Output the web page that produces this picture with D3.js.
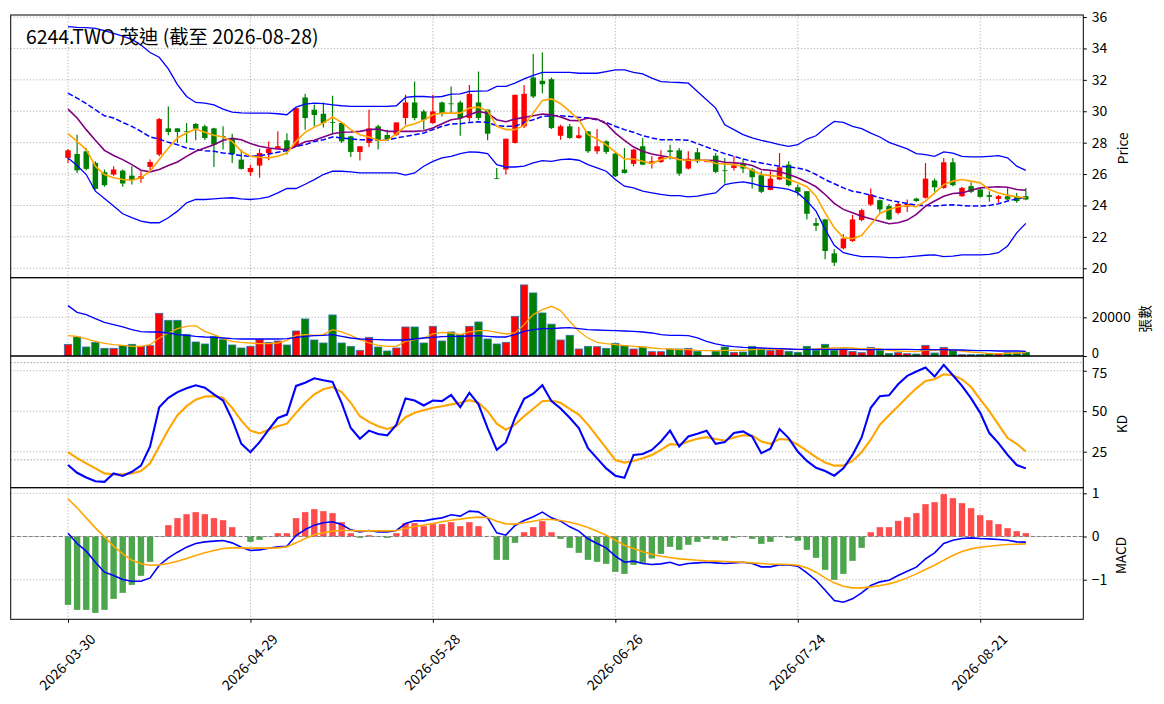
<!DOCTYPE html>
<html>
<head>
<meta charset="utf-8">
<script src="https://cdn.jsdelivr.net/npm/d3@7"></script>
<style>
  body { margin: 0; background: #fff; }
  text { font-family: "Noto Sans CJK TC", "Noto Sans", sans-serif; fill: #000; }
</style>
</head>
<body>
<div id="chart"></div>
<script>
// ---- data ----
const title = "6244.TWO 茂迪 (截至 2026-08-28)";
const tickIdx = [0, 20, 40, 60, 80, 100];
const tickLabels = ["2026-03-30", "2026-04-29", "2026-05-28", "2026-06-26", "2026-07-24", "2026-08-21"];

const open = [27.03,27.28,27.45,26.71,26.12,25.97,26.22,25.9,25.71,26.46,27.24,28.91,28.91,28.72,29.19,29.04,28.91,28.42,28.3,26.92,
  26.12,26.54,27.34,27.6,28.15,27.77,30.88,30.1,29.84,29.31,29.25,28.4,27.41,27.98,29.04,28.49,28.51,29.57,30.56,29.99,
  29.25,30.56,30.5,30.56,29.57,30.56,30.1,25.73,26.29,27.98,29.04,32.15,31.94,32.04,28.44,29.04,28.3,28.72,27.45,28.08,
  27.3,26.29,26.65,27.77,26.67,26.77,27.51,27.51,26.35,27.39,26.81,27.17,26.24,26.39,26.65,26.29,25.93,24.99,25.65,26.6,
  25.16,24.91,22.88,23.11,20.95,21.27,21.74,23.07,24.06,24.34,23.96,23.53,23.92,24.44,24.49,25.59,25.12,26.75,24.59,25.23,
  25.02,24.66,24.42,24.59,24.59,24.59];
const high = [27.6,28.51,27.66,26.81,26.29,26.5,26.29,26.5,26.18,26.92,29.57,30.31,28.91,29.25,29.25,29.14,28.95,29.04,28.57,27.56,
  26.6,27.62,28.08,28.72,28.6,30.2,31.11,30.41,30.56,30.98,29.25,28.44,27.77,30.1,29.14,28.83,29.29,31.05,31.89,30.1,
  31.05,30.62,31.58,30.69,31.68,32.53,30.1,26.39,28.25,31.05,31.68,33.65,33.74,32.15,29.14,29.19,29.0,28.72,28.87,28.15,
  27.34,27.66,27.6,28.3,27.13,27.51,27.87,27.66,27.45,27.66,26.81,27.34,27.03,27.13,26.98,26.39,26.18,26.18,27.34,26.81,
  25.33,24.91,23.22,23.15,21.21,22.16,23.39,23.79,25.08,24.38,24.1,24.21,24.38,24.49,26.71,25.71,27.03,27.03,25.19,25.48,
  25.12,24.91,24.66,25.12,24.8,25.12];
const low = [26.7,26.07,26.24,25.0,25.19,25.9,25.19,25.33,25.44,26.12,27.13,28.47,27.98,27.98,28.15,28.15,26.45,27.56,26.71,26.29,
  25.9,25.76,26.88,27.56,27.24,27.72,28.83,29.04,28.97,28.57,27.98,27.09,26.86,27.72,27.56,28.15,28.44,29.14,29.42,28.83,
  29.21,29.67,29.88,28.44,29.35,29.42,28.15,25.69,25.97,27.94,28.93,30.84,31.15,28.87,28.19,28.25,28.25,27.34,27.28,27.28,
  25.82,26.03,26.5,26.56,26.35,26.71,26.92,25.9,26.29,26.71,26.81,26.07,25.4,26.22,26.07,25.08,24.8,24.97,25.61,25.23,
  24.59,23.11,22.37,20.57,20.15,21.21,21.67,23.0,23.96,23.53,23.07,23.43,23.58,24.23,24.44,24.87,25.06,25.23,24.55,24.8,
  24.49,24.23,24.17,24.34,24.17,24.34];
const close = [27.51,26.24,26.33,25.06,25.29,26.29,25.4,25.61,25.86,26.77,29.5,28.68,28.68,28.68,28.89,28.3,27.87,28.38,27.28,26.33,
  26.39,27.34,27.6,27.77,27.45,30.2,29.57,29.76,29.25,29.27,28.08,27.41,27.77,28.91,28.13,28.23,29.29,30.56,29.57,29.46,
  29.99,29.88,30.46,29.57,31.11,29.57,28.57,25.71,28.25,31.05,31.11,30.94,31.72,28.93,29.04,28.3,28.47,27.45,27.77,27.41,
  25.86,26.07,27.56,26.6,26.81,27.09,27.41,26.03,26.98,26.81,26.81,26.14,26.2,26.56,26.35,25.8,24.87,25.71,26.43,25.29,
  24.87,23.47,22.71,21.1,20.36,21.9,23.11,23.7,24.7,23.75,23.11,24.1,24.1,24.28,25.71,25.16,26.75,25.29,25.12,24.87,
  24.55,24.55,24.59,24.38,24.28,24.38];

const ma5 = [28.57,28.08,27.56,26.5,25.97,25.76,25.65,25.61,25.76,26.18,26.92,27.66,28.3,28.61,28.87,28.66,28.47,28.36,28.08,27.45,
  27.13,27.07,27.03,27.13,27.34,28.08,28.66,28.99,29.25,29.63,29.29,28.83,28.51,28.36,28.15,28.15,28.57,29.04,29.21,29.42,
  29.78,29.88,29.88,29.88,30.2,30.26,30.03,29.04,28.83,28.83,29.1,29.88,30.69,30.79,30.48,29.99,29.46,28.51,28.23,27.87,
  27.39,26.96,26.96,26.81,26.67,26.92,27.09,26.92,26.88,26.88,26.88,26.67,26.65,26.6,26.5,26.24,25.97,25.9,25.84,25.65,
  25.44,25.19,24.59,23.53,22.58,21.95,21.88,22.1,22.79,23.49,23.75,23.92,24.0,23.92,24.28,24.8,25.33,25.55,25.65,25.55,
  25.44,25.02,24.8,24.66,24.55,24.49];
const ma10 = [30.14,29.57,28.83,28.15,27.51,27.18,26.92,26.6,26.24,26.14,26.29,26.54,26.77,27.13,27.45,27.66,27.87,28.15,28.27,28.19,
  27.94,27.77,27.66,27.6,27.56,27.77,28.06,28.15,28.36,28.57,28.66,28.68,28.72,28.83,28.87,28.72,28.72,28.72,28.72,28.76,
  28.93,29.21,29.46,29.54,29.78,29.99,29.88,29.46,29.33,29.5,29.61,29.71,29.82,29.78,29.63,29.42,29.4,29.57,29.5,29.21,
  28.61,28.15,27.72,27.45,27.28,27.17,27.07,26.96,26.88,26.88,26.88,26.86,26.75,26.71,26.67,26.54,26.29,26.24,26.15,25.97,
  25.76,25.5,25.19,24.7,24.13,23.75,23.53,23.32,23.15,23.0,22.84,22.9,23.07,23.43,23.96,24.28,24.59,24.76,24.8,24.97,
  25.12,25.16,25.19,25.16,25.02,24.97];
const ma20 = [31.15,30.84,30.48,30.1,29.71,29.57,29.29,29.04,28.72,28.36,28.23,28.02,27.87,27.66,27.56,27.49,27.45,27.34,27.28,27.17,
  27.13,27.17,27.28,27.39,27.51,27.77,27.87,28.08,28.19,28.36,28.3,28.23,28.19,28.19,28.15,28.15,28.3,28.4,28.51,28.61,
  28.83,29.04,29.19,29.21,29.29,29.33,29.29,29.08,29.04,29.04,29.29,29.46,29.67,29.71,29.71,29.67,29.61,29.57,29.46,29.29,
  29.04,28.83,28.66,28.44,28.3,28.19,28.19,28.19,28.15,27.94,27.72,27.51,27.3,27.13,26.96,26.81,26.71,26.6,26.5,26.46,
  26.39,26.24,25.97,25.65,25.38,25.12,24.91,24.8,24.66,24.49,24.34,24.23,24.13,24.02,24.0,23.96,24.02,24.04,24.0,23.96,
  23.96,24.0,24.11,24.28,24.42,24.53];
const bbUpper = [35.39,35.34,35.32,35.28,35.13,34.96,34.79,34.58,34.22,33.74,33.44,32.7,31.7,30.94,30.56,30.52,30.41,30.14,29.95,29.9,
  29.88,29.88,29.88,29.84,29.78,30.26,30.45,30.52,30.48,30.41,30.35,30.31,30.31,30.31,30.31,30.31,30.35,30.88,30.94,30.94,
  30.9,30.94,31.09,31.11,31.26,31.28,31.3,31.58,31.58,31.79,32.06,32.28,32.47,32.47,32.47,32.47,32.42,32.42,32.42,32.53,
  32.63,32.63,32.47,32.38,32.11,31.89,31.85,31.83,31.79,31.26,30.73,30.2,29.14,28.83,28.51,28.3,28.15,28.02,27.87,27.77,
  27.87,28.23,28.44,28.93,29.35,29.29,29.04,28.89,28.61,28.36,28.02,27.81,27.6,27.3,27.24,27.13,27.41,27.34,27.13,27.09,
  27.09,27.13,27.17,27.03,26.5,26.24];
const bbLower = [27.03,26.54,25.97,24.91,24.44,23.96,23.47,23.22,23.0,22.9,22.9,23.22,23.64,24.17,24.38,24.38,24.42,24.47,24.49,24.42,
  24.38,24.44,24.55,24.8,25.08,25.08,25.35,25.65,25.97,26.18,26.18,26.14,26.07,26.07,26.07,26.07,26.07,25.93,26.07,26.5,
  26.81,27.03,27.13,27.3,27.41,27.39,27.3,26.6,26.45,26.45,26.5,26.71,26.86,26.81,26.92,26.96,26.88,26.6,26.39,26.18,
  25.65,25.23,25.12,24.91,24.8,24.7,24.63,24.63,24.55,24.59,24.7,24.8,25.33,25.44,25.5,25.4,25.23,25.19,25.12,25.02,
  24.8,24.28,23.64,22.48,21.46,20.99,20.85,20.74,20.74,20.72,20.68,20.68,20.72,20.78,20.83,20.85,20.74,20.78,20.85,20.85,
  20.85,20.89,20.99,21.42,22.26,22.86];

const volume = [6034,9828,4655,7069,3966,3966,5345,6034,5000,5345,22069,18448,18448,11207,7241,6207,10172,8448,5690,4138,
  5000,8448,7069,7759,5690,12931,19138,8276,6724,21207,6724,5000,2931,9655,4655,2586,4138,15000,15000,6724,
  15345,7759,12414,11000,15345,17586,8793,6207,7069,20517,36724,32586,22241,16450,8276,10690,3621,5000,4828,3966,
  6552,5345,3621,4655,2241,2241,3621,3621,3966,2414,0,2414,4655,1897,2069,5000,3621,2759,3621,2414,
  1897,5000,2931,6034,2931,3621,2414,1724,4483,2931,1379,1724,1207,1034,5517,1552,4483,2931,690,690,
  690,1379,1207,1724,1724,1897];
const volMa5 = [10517,10172,8793,7586,6552,5862,5517,5000,5000,5862,9310,11897,14138,15345,15690,12759,11034,8966,7586,7069,
  6724,6379,6379,6724,8103,10690,11034,10690,11034,13621,12414,10690,8448,6724,5517,5000,5000,7586,8448,9310,
  11379,12241,11897,11034,12414,13103,13103,12241,11379,11897,16207,21379,24000,25690,23448,17931,12759,9310,7069,6379,
  5862,5345,5000,4655,4138,3793,3621,3276,3276,2931,2759,2759,2931,2931,2931,3276,3621,3448,3448,3448,
  3276,3448,3621,3966,4138,4310,4138,3621,3793,3621,2931,2586,2414,2241,2931,2931,3448,3103,2586,2069,
  1724,1207,1207,1379,1552,1724];
const volMa20 = [26032,22584,21378,19309,17412,16206,14999,13620,12585,12413,12413,11896,11034,10689,10172,9827,9654,9310,8965,8792,
  8792,8792,8792,8792,8965,9654,10172,10516,10689,11034,10172,9310,8792,8620,8448,8275,8275,8275,8792,9310,
  9654,9999,10172,10172,10344,10516,10172,9827,9827,11034,12758,13620,14137,14137,14482,14654,14137,13620,13447,13275,
  13102,12930,12758,12413,11896,11034,10689,10689,10516,9310,7586,6206,5344,4827,4482,4310,4138,3965,3793,3620,
  3448,3448,3448,3448,3448,3448,3448,3276,3276,3448,3448,3448,3448,3276,3276,3276,3276,3103,3103,2931,
  2758,2758,2586,2586,2586,2414];

const kLine = [16.8,12.0,9.1,6.8,6.4,11.6,10.0,12.6,16.4,28.2,52.5,58.3,61.8,64.1,66.0,64.5,60.4,56.6,44.8,29.9,
  24.7,30.9,38.6,45.8,47.9,65.6,67.6,70.3,69.1,68.1,55.2,39.6,33.0,38.0,35.9,35.1,41.7,57.9,56.6,53.5,
  56.6,56.2,60.0,52.5,61.4,54.2,39.6,26.1,30.7,45.8,57.7,60.8,66.0,56.2,51.7,45.9,39.6,27.2,20.9,14.7,
  10.2,8.9,23.0,23.6,26.1,31.3,38.0,28.2,34.4,36.1,38.0,29.9,30.9,36.5,37.5,34.4,24.1,26.8,39.0,33.4,
  25.1,19.3,15.1,13.1,10.2,14.7,23.0,33.8,52.1,59.3,59.8,66.6,71.8,74.5,77.0,71.4,78.6,72.2,65.6,57.9,
  49.0,36.5,30.3,23.0,16.8,14.7];
const dLine = [24.7,21.0,17.8,14.7,11.6,11.0,11.0,11.6,13.1,17.8,28.2,38.6,47.5,53.1,57.1,59.1,59.3,58.3,52.1,44.2,
  38.0,36.3,38.6,40.7,42.3,49.0,55.2,60.4,63.5,64.9,61.8,55.2,46.9,43.4,40.7,39.0,40.7,46.3,49.0,50.6,
  52.1,53.1,54.2,55.2,56.8,55.2,50.0,42.3,38.6,41.7,46.9,51.5,56.2,56.6,55.2,51.5,47.9,41.7,34.4,27.2,
  19.9,18.3,19.3,21.0,23.0,26.1,29.7,29.3,31.3,33.0,34.0,32.8,31.9,33.8,35.1,34.9,31.3,29.9,32.8,32.4,
  29.3,25.5,21.6,18.3,16.4,16.4,19.3,24.7,32.4,41.7,47.5,53.1,58.7,64.1,68.7,69.7,72.8,72.2,69.7,64.9,
  57.3,50.0,41.7,33.4,29.9,25.1];

const dif = [0.077,-0.162,-0.340,-0.595,-0.826,-0.903,-0.996,-1.035,-1.035,-0.958,-0.664,-0.494,-0.363,-0.247,-0.162,-0.124,-0.108,-0.093,-0.147,-0.247,
  -0.324,-0.309,-0.270,-0.239,-0.224,0.023,0.162,0.263,0.317,0.340,0.278,0.154,0.108,0.139,0.108,0.108,0.139,0.301,0.363,0.363,
  0.402,0.432,0.502,0.471,0.587,0.571,0.432,0.085,0.031,0.255,0.371,0.456,0.564,0.432,0.355,0.224,0.124,-0.054,-0.162,-0.263,
  -0.456,-0.595,-0.571,-0.625,-0.649,-0.633,-0.595,-0.664,-0.625,-0.610,-0.595,-0.610,-0.625,-0.610,-0.595,-0.625,-0.703,-0.703,-0.656,-0.656,
  -0.687,-0.842,-1.012,-1.243,-1.483,-1.521,-1.444,-1.305,-1.135,-1.050,-1.012,-0.903,-0.803,-0.710,-0.517,-0.378,-0.162,-0.085,-0.046,-0.031,
  -0.046,-0.054,-0.069,-0.085,-0.124,-0.131];
const signal = [0.873,0.664,0.432,0.201,-0.008,-0.224,-0.402,-0.548,-0.633,-0.664,-0.657,-0.625,-0.571,-0.510,-0.440,-0.378,-0.324,-0.278,-0.263,-0.263,
  -0.270,-0.270,-0.270,-0.263,-0.239,-0.147,-0.046,0.039,0.085,0.124,0.139,0.139,0.131,0.131,0.131,0.131,0.139,0.185,0.232,0.263,
  0.301,0.340,0.378,0.402,0.432,0.448,0.440,0.355,0.293,0.286,0.317,0.355,0.394,0.394,0.371,0.332,0.278,0.208,0.124,0.031,
  -0.085,-0.201,-0.278,-0.355,-0.409,-0.456,-0.486,-0.517,-0.533,-0.548,-0.564,-0.571,-0.579,-0.587,-0.595,-0.610,-0.625,-0.641,-0.641,-0.649,
  -0.664,-0.726,-0.826,-0.958,-1.073,-1.151,-1.189,-1.189,-1.166,-1.135,-1.097,-1.035,-0.958,-0.865,-0.764,-0.664,-0.548,-0.440,-0.347,-0.286,
  -0.247,-0.224,-0.201,-0.185,-0.178,-0.170];
const osc = [-1.583,-1.699,-1.699,-1.768,-1.699,-1.444,-1.305,-1.12,-0.911,-0.587,-0.01,0.263,0.425,0.517,0.564,0.517,0.425,0.378,0.216,0.0,
  -0.124,-0.077,0.0,0.077,0.077,0.425,0.564,0.633,0.587,0.541,0.332,0.077,-0.031,0.031,-0.008,-0.031,0.077,0.309,0.309,0.239,
  0.286,0.286,0.332,0.239,0.332,0.239,0.0,-0.541,-0.541,-0.147,0.1,0.216,0.355,0.1,-0.054,-0.263,-0.378,-0.541,-0.587,-0.633,
  -0.819,-0.865,-0.656,-0.610,-0.510,-0.402,-0.239,-0.309,-0.193,-0.124,-0.054,-0.077,-0.100,-0.031,-0.008,-0.054,-0.170,-0.124,-0.01,-0.031,
  -0.100,-0.309,-0.494,-0.772,-1.004,-0.865,-0.564,-0.263,0.1,0.216,0.216,0.363,0.448,0.541,0.749,0.795,0.981,0.888,0.772,0.656,
  0.494,0.378,0.286,0.193,0.124,0.077];

const priceTicks = [20, 22, 24, 26, 28, 30, 32, 34, 36];
const volTicks = [0, 20000];
const kdTicks = [25, 50, 75];
const macdTicks = [-1, 0, 1];

// ---- layout ----
const width = 1164, height = 704;
const left = 10.7, right = 1083.3;
const fontFam = '"Noto Sans CJK TC", "Noto Sans", sans-serif';
const tickFont = "14px";
const idx = d3.range(close.length);

const svg = d3.select("#chart").append("svg")
    .attr("width", width)
    .attr("height", height);

const x = d3.scaleLinear().domain([-6.28, 111.3]).range([left, right]);
const step = x(1) - x(0);

// panels: top, bottom, y scale
const pMain = { top: 15, bottom: 277.7 };
const pVol = { top: 277.7, bottom: 356 };
const pKd = { top: 356, bottom: 487.7 };
const pMacd = { top: 487.7, bottom: 619.3 };
const yPrice = d3.scaleLinear().domain([19.40, 36.13]).range([pMain.bottom, pMain.top]);
const yVol = d3.scaleLinear().domain([0, 40465]).range([pVol.bottom, pVol.top]);
const yKd = d3.scaleLinear().domain([2.78, 84.07]).range([pKd.bottom, pKd.top]);
const yMacd = d3.scaleLinear().domain([-1.917, 1.13]).range([pMacd.bottom, pMacd.top]);

const upColor = "#ff0000", downColor = "#008000";
const isUp = i => close[i] >= open[i];

function panelSetup(p, name, yScale, ticks) {
    // clip
    svg.append("clipPath").attr("id", "clip-" + name)
        .append("rect")
        .attr("x", left).attr("y", p.top)
        .attr("width", right - left).attr("height", p.bottom - p.top);

    // grid
    const grid = svg.append("g").attr("stroke", "#a8a8a8").attr("stroke-width", 0.9)
        .attr("stroke-dasharray", "1.2,2");
    grid.selectAll(".vg").data(tickIdx).join("line")
        .attr("x1", d => x(d)).attr("x2", d => x(d))
        .attr("y1", p.top).attr("y2", p.bottom);
    grid.selectAll(".hg").data(ticks).join("line")
        .attr("x1", left).attr("x2", right)
        .attr("y1", d => yScale(d)).attr("y2", d => yScale(d));

    return svg.append("g").attr("clip-path", `url(#clip-${name})`);
}

function panelFrame(p, yScale, ticks) {
    svg.append("rect")
        .attr("x", left).attr("y", p.top)
        .attr("width", right - left).attr("height", p.bottom - p.top)
        .attr("fill", "none").attr("stroke", "#000").attr("stroke-width", 1);

    const ax = svg.append("g")
        .attr("transform", `translate(${right},0)`)
        .call(d3.axisRight(yScale).tickValues(ticks).tickSize(3.5).tickPadding(5).tickFormat(d3.format("d")));
    ax.select(".domain").remove();
    ax.selectAll("text").attr("font-size", tickFont).attr("font-family", fontFam);
    return ax;
}

function ylabel(txt, cx, p) {
    const cy = (p.top + p.bottom) / 2 + 2;
    svg.append("text")
        .attr("transform", `translate(${cx},${cy}) rotate(-90)`)
        .attr("text-anchor", "middle")
        .attr("dominant-baseline", "central")
        .attr("font-size", "13.6px")
        .text(txt);
}

const lineOf = (yScale, vals) => d3.line().x(i => x(i)).y(i => yScale(vals[i]));

// ---- main panel: candles, MA, Bollinger ----
const gMain = panelSetup(pMain, "main", yPrice, priceTicks);

gMain.selectAll(".wick").data(idx).join("line")
    .attr("x1", i => x(i)).attr("x2", i => x(i))
    .attr("y1", i => yPrice(high[i])).attr("y2", i => yPrice(low[i]))
    .attr("stroke", i => isUp(i) ? upColor : downColor)
    .attr("stroke-width", 1.2);

gMain.selectAll(".body").data(idx).join("rect")
    .attr("x", i => x(i) - step * 0.3)
    .attr("width", step * 0.6)
    .attr("y", i => yPrice(Math.max(open[i], close[i])))
    .attr("height", i => Math.max(0.8, Math.abs(yPrice(open[i]) - yPrice(close[i]))))
    .attr("fill", i => isUp(i) ? upColor : downColor);

const mainLines = [
    { vals: bbUpper, color: "#0000ff", w: 1.3 },
    { vals: bbLower, color: "#0000ff", w: 1.3 },
    { vals: ma20, color: "#0000ff", w: 1.5, dash: "5.5,2.4" },
    { vals: ma10, color: "#800080", w: 1.6 },
    { vals: ma5, color: "#ffa500", w: 1.6 }
];
mainLines.forEach(l => {
    gMain.append("path")
        .attr("d", lineOf(yPrice, l.vals)(idx))
        .attr("fill", "none")
        .attr("stroke", l.color)
        .attr("stroke-width", l.w)
        .attr("stroke-dasharray", l.dash || null);
});

svg.append("text")
    .attr("x", 26).attr("y", 43.5)
    .attr("font-size", "19.4px")
    .text(title);

panelFrame(pMain, yPrice, priceTicks);
ylabel("Price", 1122, pMain);

// ---- volume panel ----
const gVol = panelSetup(pVol, "vol", yVol, volTicks);
gVol.selectAll(".vbar").data(idx).join("rect")
    .attr("x", i => x(i) - step * 0.4)
    .attr("width", step * 0.8)
    .attr("y", i => yVol(volume[i]))
    .attr("height", i => yVol(0) - yVol(volume[i]))
    .attr("fill", i => isUp(i) ? upColor : downColor)
    .attr("stroke", i => volume[i] > 0 ? "#2f74b0" : "none")
    .attr("stroke-width", 0.8);
[{ vals: volMa5, color: "#ffa500" }, { vals: volMa20, color: "#0000ff" }].forEach(l => {
    gVol.append("path")
        .attr("d", lineOf(yVol, l.vals)(idx))
        .attr("fill", "none")
        .attr("stroke", l.color)
        .attr("stroke-width", 1.3);
});
const volAx = panelFrame(pVol, yVol, volTicks);
// nudge the "0" label up a touch so it does not sit on the KD "75"
volAx.selectAll(".tick text").filter(d => d === 0).attr("dy", "0.1em").attr("font-size", "13px");
ylabel("張數", 1144, pVol);

// ---- KD panel ----
const gKd = panelSetup(pKd, "kd", yKd, kdTicks);
gKd.selectAll(".ref").data([20, 80]).join("line")
    .attr("x1", left).attr("x2", right)
    .attr("y1", d => yKd(d)).attr("y2", d => yKd(d))
    .attr("stroke", "#999").attr("stroke-width", 0.9).attr("stroke-dasharray", "1.5,1.8");
[{ vals: dLine, color: "#ffa500" }, { vals: kLine, color: "#0000ff" }].forEach(l => {
    gKd.append("path")
        .attr("d", lineOf(yKd, l.vals)(idx))
        .attr("fill", "none")
        .attr("stroke", l.color)
        .attr("stroke-width", 2.1);
});
const kdAx = panelFrame(pKd, yKd, kdTicks);
kdAx.selectAll(".tick text").filter(d => d === 75).attr("dy", "0.5em");
ylabel("KD", 1121, pKd);

// ---- MACD panel ----
const gMacd = panelSetup(pMacd, "macd", yMacd, macdTicks);
gMacd.selectAll(".hbar").data(idx).join("rect")
    .attr("x", i => x(i) - step * 0.35)
    .attr("width", step * 0.7)
    .attr("y", i => yMacd(Math.max(0, osc[i])))
    .attr("height", i => Math.abs(yMacd(osc[i]) - yMacd(0)))
    .attr("fill", i => osc[i] >= 0 ? "#ff4d4d" : "#4da64d");
gMacd.append("line")
    .attr("x1", left).attr("x2", right)
    .attr("y1", yMacd(0)).attr("y2", yMacd(0))
    .attr("stroke", "#808080").attr("stroke-width", 1).attr("stroke-dasharray", "4,2");
[{ vals: dif, color: "#0000ff" }, { vals: signal, color: "#ffa500" }].forEach(l => {
    gMacd.append("path")
        .attr("d", lineOf(yMacd, l.vals)(idx))
        .attr("fill", "none")
        .attr("stroke", l.color)
        .attr("stroke-width", 1.6);
});
panelFrame(pMacd, yMacd, macdTicks);
ylabel("MACD", 1120, pMacd);

// ---- date axis ----
const xAx = svg.append("g")
    .attr("transform", `translate(0,${pMacd.bottom})`)
    .call(d3.axisBottom(x).tickValues(tickIdx).tickSize(3.5).tickFormat((d, i) => tickLabels[i]));
xAx.select(".domain").remove();
xAx.selectAll("text")
    .attr("font-size", tickFont)
    .attr("font-family", fontFam)
    .attr("text-anchor", "middle")
    .attr("x", 0).attr("y", 0).attr("dy", "0.35em")
    .attr("transform", "translate(-1,43) rotate(-45)");
</script>
</body>
</html>
